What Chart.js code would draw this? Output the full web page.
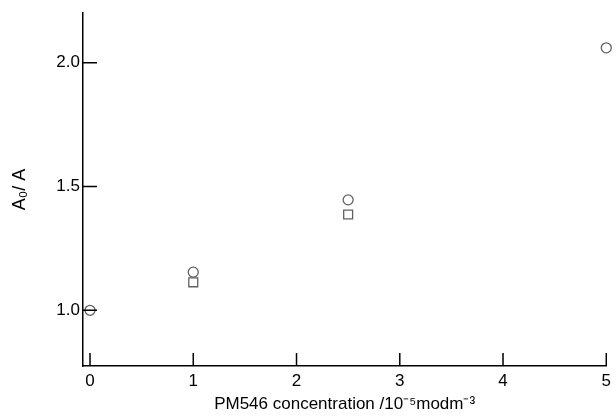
<!DOCTYPE html>
<html>
<head>
<meta charset="utf-8">
<script src="https://cdn.jsdelivr.net/npm/chart.js@4"></script>
<style>
  html, body { margin: 0; padding: 0; background: #fff; }
  #wrap { width: 616px; height: 418px; }
</style>
</head>
<body>
<div id="wrap"><canvas id="chart"></canvas></div>
<script>
// values
const circleX = [0, 1, 2.5, 5];
const circleY = [1.0, 1.154, 1.446, 2.06];
const squareX = [1, 2.5];
const squareY = [1.113, 1.387];
const xTicks = [0, 1, 2, 3, 4, 5];
const yTicks = [1.0, 1.5, 2.0];

const FONT = '"Liberation Sans", Arial, sans-serif';
const MARK = '#606060';

const toPoints = (xs, ys) => xs.map((x, i) => ({ x, y: ys[i] }));

// tick marks drawn inward, from the scales' own pixels
const innerTicks = {
    id: 'innerTicks',
    afterDraw(chart) {
        const { ctx, chartArea: a, scales: { x, y } } = chart;
        ctx.save();
        ctx.strokeStyle = '#000';
        ctx.lineWidth = 1.5;
        ctx.beginPath();
        xTicks.forEach(v => {
            const px = x.getPixelForValue(v);
            ctx.moveTo(px, a.bottom);
            ctx.lineTo(px, a.bottom - 13);
        });
        yTicks.forEach(v => {
            const py = y.getPixelForValue(v);
            ctx.moveTo(a.left, py);
            ctx.lineTo(a.left + 14, py);
        });
        ctx.stroke();
        ctx.restore();
    }
};

new Chart(document.getElementById('chart'), {
    type: 'scatter',
    data: {
        datasets: [{
            label: 'circle',
            data: toPoints(circleX, circleY),
            pointStyle: 'circle',
            pointRadius: 5,
            pointBorderWidth: 1.3,
            pointBorderColor: MARK,
            pointBackgroundColor: 'rgba(0,0,0,0)',
            clip: false
        }, {
            label: 'square',
            data: toPoints(squareX, squareY),
            pointStyle: 'rect',
            pointRadius: 6.3,
            pointBorderWidth: 1.3,
            pointBorderColor: MARK,
            pointBackgroundColor: 'rgba(0,0,0,0)',
            clip: false
        }]
    },
    options: {
        responsive: true,
        maintainAspectRatio: false,
        animation: false,
        layout: { padding: { top: 12, right: 8, left: 0, bottom: 0 } },
        plugins: {
            legend: { display: false },
            tooltip: { enabled: false }
        },
        scales: {
            x: {
                type: 'linear',
                min: -0.068,
                max: 5,
                afterBuildTicks: s => { s.ticks = xTicks.map(v => ({ value: v })); },
                afterFit: s => { s.height = 52; },
                grid: { display: false, drawTicks: false },
                border: { display: true, color: '#000', width: 1.5 },
                ticks: {
                    padding: 5,
                    color: '#000',
                    font: { family: FONT, size: 17 },
                    maxRotation: 0,
                    callback: v => String(v)
                },
                title: {
                    display: true,
                    text: 'PM546 concentration /10\u207B\u2075modm\u207B\u00B3',
                    color: '#000',
                    font: { family: FONT, size: 17 },
                    padding: { top: 0, bottom: 3 }
                }
            },
            y: {
                type: 'linear',
                min: 0.775,
                max: 2.2,
                afterBuildTicks: s => { s.ticks = yTicks.map(v => ({ value: v })); },
                afterFit: s => { s.width = 83; },
                grid: { display: false, drawTicks: false },
                border: { display: true, color: '#000', width: 1.5 },
                ticks: {
                    padding: 3,
                    color: '#000',
                    font: { family: FONT, size: 17 },
                    callback: v => Number(v).toFixed(1)
                },
                title: {
                    display: true,
                    text: 'A\u2080/ A',
                    color: '#000',
                    font: { family: FONT, size: 18 },
                    padding: { top: 9, bottom: 0 }
                }
            }
        }
    },
    plugins: [innerTicks]
});
</script>
</body>
</html>
